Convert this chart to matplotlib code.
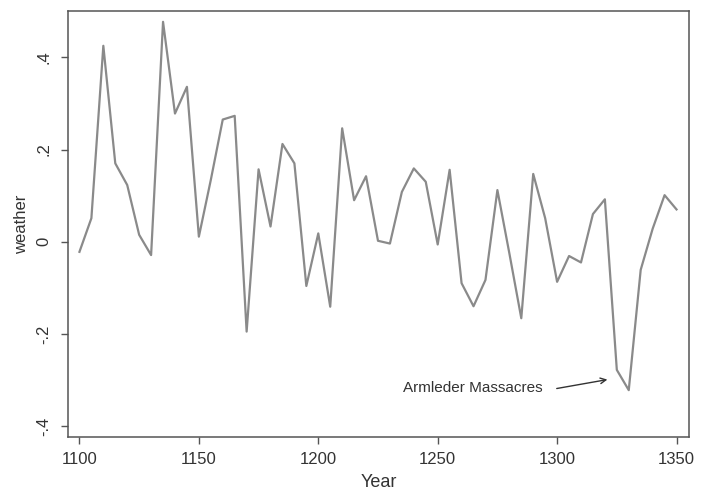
import matplotlib
matplotlib.use("Agg")
import matplotlib.pyplot as plt
import numpy as np

plt.rcParams['font.family'] = ['Liberation Sans', 'DejaVu Sans']

years = list(range(1100, 1351, 5))
weather = [-0.022, 0.051, 0.425, 0.170, 0.123, 0.015, -0.029, 0.477, 0.278, 0.336,
           0.011, 0.134, 0.265, 0.273, -0.195, 0.157, 0.033, 0.212, 0.170, -0.096,
           0.018, -0.141, 0.246, 0.090, 0.142, 0.002, -0.004, 0.108, 0.159, 0.130,
           -0.006, 0.156, -0.090, -0.140, -0.083, 0.112, -0.025, -0.166, 0.147, 0.051,
           -0.087, -0.031, -0.045, 0.060, 0.092, -0.278, -0.322, -0.061, 0.028, 0.101,
           0.070]

yticks = [-0.4, -0.2, 0, 0.2, 0.4]
ytick_labels = ["-.4", "-.2", "0", ".2", ".4"]
xticks = [1100, 1150, 1200, 1250, 1300, 1350]

fig = plt.figure(figsize=(7.06, 4.92), dpi=100)
ax = fig.add_axes([0.0963, 0.1118, 0.8792, 0.8658])

ax.plot(years, weather, color='#8a8a8a', linewidth=1.6)

ax.set_xlim(1095.2, 1355.1)
ax.set_ylim(-0.4236, 0.5004)
ax.set_xticks(xticks)
ax.set_yticks(yticks)
ax.set_yticklabels(ytick_labels, rotation=90, va='center')

for sp in ax.spines.values():
    sp.set_color('#555555')
    sp.set_linewidth(1.1)
ax.tick_params(axis='both', length=5, width=1, color='#555555', labelsize=12,
               labelcolor='#333333')
ax.tick_params(axis='x', pad=6)
ax.tick_params(axis='y', pad=7)

ax.set_xlabel("Year", fontsize=13, color='#333333', labelpad=5)
ax.set_ylabel("weather", fontsize=12, color='#333333', labelpad=5)

ax.text(1235.3, -0.317, "Armleder Massacres", fontsize=11, color='#333333',
        ha='left', va='center')
ax.annotate("", xy=(1322.2, -0.298), xytext=(1298.7, -0.3195),
            arrowprops=dict(arrowstyle='->', color='#333333', lw=1))

fig.savefig("out.png", dpi=100)
